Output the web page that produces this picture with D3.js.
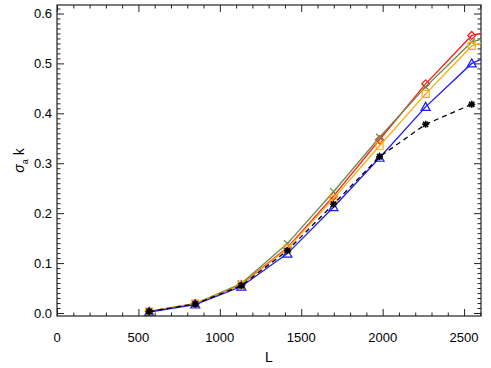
<!DOCTYPE html>
<html>
<head>
<meta charset="utf-8">
<script src="https://cdn.jsdelivr.net/npm/d3@7"></script>
<style>
  body { margin: 0; background: #fff; }
  svg { font-family: "Liberation Sans", Arial, sans-serif; }
</style>
</head>
<body>
<svg id="chart" width="491" height="368"></svg>
<script>
// multipole values; last one lies past the axis range and is clipped
const L = [566, 849, 1132, 1415, 1698, 1981, 2264, 2547, 2830];
const redVals = [0.003, 0.019, 0.057, 0.131, 0.234, 0.347, 0.459, 0.556, 0.576];
const greenVals = [0.003, 0.019, 0.059, 0.139, 0.243, 0.352, 0.453, 0.543, 0.568];
const orangeVals = [0.003, 0.019, 0.056, 0.129, 0.229, 0.335, 0.439, 0.535, 0.562];
const blueVals = [0.002, 0.017, 0.053, 0.119, 0.212, 0.311, 0.413, 0.500, 0.540];
const blackVals = [0.003, 0.018, 0.055, 0.125, 0.218, 0.313, 0.378, 0.418];
const xTicks = [0, 500, 1000, 1500, 2000, 2500];
const yTicks = [0.0, 0.1, 0.2, 0.3, 0.4, 0.5, 0.6];

const series = [
  { vals: redVals, color: "#ff1a1a", sym: "diamond", dash: null },
  { vals: greenVals, color: "#6b8a45", sym: "x", dash: null },
  { vals: orangeVals, color: "#ffaa11", sym: "square", dash: null },
  { vals: blueVals, color: "#1a1aff", sym: "triangle", dash: null },
  { vals: blackVals, color: "#000000", sym: "star", dash: "5,4" },
];

const width = 491,
  height = 368;
const padding = { left: 57, right: 10, top: 5, bottom: 52 };
const svg = d3.select("#chart");

const x = d3
  .scaleLinear()
  .domain([0, 2604])
  .range([padding.left, width - padding.right]);
const y = d3
  .scaleLinear()
  .domain([-0.006, 0.617])
  .range([height - padding.bottom, padding.top]);

svg
  .append("clipPath")
  .attr("id", "plot-clip")
  .append("rect")
  .attr("x", padding.left)
  .attr("y", padding.top)
  .attr("width", width - padding.left - padding.right)
  .attr("height", height - padding.top - padding.bottom);

// ticks on all four sides, pointing inward
const major = 7,
  minor = 3.5;
const xMinor = d3.range(0, 2601, 100).filter((d) => d % 500 !== 0);
const yMinor = d3.range(0, 62).map((d) => d / 100).filter((d, i) => i % 10 !== 0);

const addAxis = (axis, tr, size, cls) =>
  svg
    .append("g")
    .attr("class", cls)
    .attr("transform", tr)
    .call(axis.tickSize(size).tickSizeOuter(0))
    .call((g) => g.select(".domain").remove())
    .call((g) => g.selectAll("line").attr("stroke", "#222"));

const bottomY = height - padding.bottom,
  rightX = width - padding.right;

addAxis(d3.axisTop(x).tickValues(xTicks).tickFormat(""), `translate(0,${bottomY})`, major, "xb");
addAxis(d3.axisTop(x).tickValues(xMinor).tickFormat(""), `translate(0,${bottomY})`, minor, "xbm");
addAxis(d3.axisBottom(x).tickValues(xTicks).tickFormat(""), `translate(0,${padding.top})`, major, "xt");
addAxis(d3.axisBottom(x).tickValues(xMinor).tickFormat(""), `translate(0,${padding.top})`, minor, "xtm");
addAxis(d3.axisRight(y).tickValues(yTicks).tickFormat(""), `translate(${padding.left},0)`, major, "yl");
addAxis(d3.axisRight(y).tickValues(yMinor).tickFormat(""), `translate(${padding.left},0)`, minor, "ylm");
addAxis(d3.axisLeft(y).tickValues(yTicks).tickFormat(""), `translate(${rightX},0)`, major, "yr");
addAxis(d3.axisLeft(y).tickValues(yMinor).tickFormat(""), `translate(${rightX},0)`, minor, "yrm");

// tick labels
svg
  .append("g")
  .selectAll("text")
  .data(xTicks)
  .join("text")
  .attr("x", (d) => x(d))
  .attr("y", bottomY + 26)
  .attr("text-anchor", "middle")
  .attr("font-size", 13)
  .text((d) => d);

svg
  .append("g")
  .selectAll("text")
  .data(yTicks)
  .join("text")
  .attr("x", padding.left - 5)
  .attr("y", (d) => y(d) + 4.5)
  .attr("text-anchor", "end")
  .attr("font-size", 13)
  .text((d) => d.toFixed(1));

// frame
svg
  .append("rect")
  .attr("x", padding.left)
  .attr("y", padding.top)
  .attr("width", rightX - padding.left)
  .attr("height", bottomY - padding.top)
  .attr("fill", "none")
  .attr("stroke", "#222")
  .attr("stroke-width", 1.2);

// axis titles
svg
  .append("text")
  .attr("x", (padding.left + rightX) / 2)
  .attr("y", 362)
  .attr("text-anchor", "middle")
  .attr("font-size", 14)
  .text("L");

const yTitle = svg
  .append("text")
  .attr("transform", `translate(24,${(padding.top + bottomY) / 2}) rotate(-90)`)
  .attr("text-anchor", "middle")
  .attr("font-size", 14);
yTitle.append("tspan").attr("font-style", "italic").text("σ");
yTitle.append("tspan").attr("font-size", 9).attr("dy", 4).text("a");
yTitle.append("tspan").attr("dy", -4).text(" k");

// lines + symbols
const line = d3
  .line()
  .x((d) => x(d[0]))
  .y((d) => y(d[1]));

const plot = svg.append("g").attr("clip-path", "url(#plot-clip)");

const symbolPath = (sym) => {
  if (sym === "diamond") return "M0,-4L4,0L0,4L-4,0Z";
  if (sym === "square") return "M-3.5,-3.5H3.5V3.5H-3.5Z";
  if (sym === "triangle") return "M0,-4.5L4.5,3.5H-4.5Z";
  if (sym === "x") return "M-3.5,-3.5L3.5,3.5M3.5,-3.5L-3.5,3.5";
  return "M-3.5,0H3.5M0,-3.5V3.5M-2.6,-2.6L2.6,2.6M2.6,-2.6L-2.6,2.6";
};

series.forEach((s) => {
  const pts = s.vals.map((v, i) => [L[i], v]);
  plot
    .append("path")
    .datum(pts)
    .attr("d", line)
    .attr("fill", "none")
    .attr("stroke", s.color)
    .attr("stroke-width", 1.3)
    .attr("stroke-dasharray", s.dash);
  plot
    .append("g")
    .selectAll("path")
    .data(pts)
    .join("path")
    .attr("transform", (d) => `translate(${x(d[0])},${y(d[1])})`)
    .attr("d", symbolPath(s.sym))
    .attr("fill", "none")
    .attr("stroke", s.color)
    .attr("stroke-width", s.sym === "star" ? 1.6 : 1.2);
});
</script>
</body>
</html>
